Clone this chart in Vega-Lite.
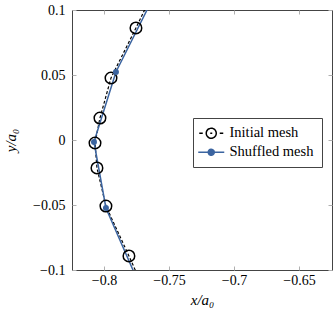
{
  "$schema": "https://vega.github.io/schema/vega-lite/v6.json",
  "width": 260,
  "height": 260,
  "autosize": "none",
  "padding": {"left": 72, "top": 10, "right": 1, "bottom": 46},
  "background": "white",
  "config": {
    "view": {"stroke": "#444444", "strokeWidth": 1},
    "font": "Liberation Serif",
    "axis": {
      "grid": false,
      "domain": false,
      "tickColor": "#b0b0b0",
      "tickSize": -4,
      "tickWidth": 1,
      "labelFont": "Liberation Serif",
      "labelFontSize": 14,
      "labelColor": "black",
      "titleFont": "Liberation Serif",
      "titleFontSize": 15,
      "titleFontStyle": "italic",
      "titleFontWeight": "normal",
      "titleColor": "black"
    },
    "legend": {
      "labelFont": "Liberation Serif"
    }
  },
  "resolve": {"axis": {"x": "independent", "y": "independent"}},
  "data": {
    "values": [
      {"series": "Initial mesh", "i": 0, "x": -0.7569, "y": 0.1246},
      {"series": "Initial mesh", "i": 1, "x": -0.7754, "y": 0.0862},
      {"series": "Initial mesh", "i": 2, "x": -0.7946, "y": 0.0477},
      {"series": "Initial mesh", "i": 3, "x": -0.8031, "y": 0.0169},
      {"series": "Initial mesh", "i": 4, "x": -0.8069, "y": -0.0023},
      {"series": "Initial mesh", "i": 5, "x": -0.8054, "y": -0.0215},
      {"series": "Initial mesh", "i": 6, "x": -0.7985, "y": -0.0508},
      {"series": "Initial mesh", "i": 7, "x": -0.7808, "y": -0.0892},
      {"series": "Initial mesh", "i": 8, "x": -0.7635, "y": -0.1277},
      {"series": "Shuffled mesh", "i": 0, "x": -0.7642, "y": 0.1054},
      {"series": "Shuffled mesh", "i": 1, "x": -0.7908, "y": 0.0523},
      {"series": "Shuffled mesh", "i": 2, "x": -0.8077, "y": -0.0015},
      {"series": "Shuffled mesh", "i": 3, "x": -0.7985, "y": -0.0523},
      {"series": "Shuffled mesh", "i": 4, "x": -0.7757, "y": -0.1046}
    ]
  },
  "encoding": {
    "x": {"field": "x", "type": "quantitative", "axis": null, "scale": {"domain": [-0.8246, -0.6246], "nice": false, "zero": false}},
    "y": {"field": "y", "type": "quantitative", "axis": null, "scale": {"domain": [-0.1, 0.1], "nice": false, "zero": false}},
    "color": {
      "field": "series",
      "type": "nominal",
      "scale": {"domain": ["Initial mesh", "Shuffled mesh"], "range": ["black", "#3b64a0"]},
      "legend": {
        "title": null,
        "orient": "none",
        "legendX": 121,
        "legendY": 108,
        "padding": 8,
        "strokeColor": "#444444",
        "fillColor": "white",
        "cornerRadius": 0,
        "labelFontSize": 14.5,
        "labelColor": "black",
        "labelOffset": 11,
        "symbolSize": 100,
        "symbolOffset": 3,
        "rowPadding": 2,
        "encode": {
          "symbols": {
            "update": {
              "shape": {"signal": "datum.value === 'Initial mesh' ? 'M-2.4,0H-1.7M-1,0A1,1 0 1,0 1,0A1,1 0 1,0 -1,0M-0.2,0H0.2M1.7,0H2.4' : 'M-2.6,0H2.6M-0.6,0A0.6,0.6 0 1,0 0.6,0A0.6,0.6 0 1,0 -0.6,0'"},
              "fill": {"signal": "datum.value === 'Initial mesh' ? 'transparent' : '#3b64a0'"},
              "fillOpacity": {"signal": "datum.value === 'Initial mesh' ? 0 : 1"},
              "stroke": {"signal": "datum.value === 'Initial mesh' ? 'black' : '#3b64a0'"},
              "strokeWidth": {"value": 1.5},
              "strokeDash": {"value": [1, 0]},
              "size": {"value": 100},
              "opacity": {"value": 1}
            }
          }
        }
      }
    }
  },
  "layer": [
    {
      "mark": {"type": "line", "clip": true, "strokeWidth": 1.2, "strokeDash": [3, 2]},
      "transform": [{"filter": "datum.series === 'Initial mesh'"}],
      "encoding": {
        "order": {"field": "i"},
        "x": {"field": "x", "type": "quantitative", "axis": {"title": "x/a₀", "values": [-0.8, -0.75, -0.7, -0.65], "format": "~g", "labelPadding": 7, "titlePadding": 5}},
        "y": {"field": "y", "type": "quantitative", "axis": {"title": "y/a₀", "values": [-0.1, -0.05, 0, 0.05, 0.1], "format": "~g", "labelPadding": 11, "titlePadding": 14}}
      }
    },
    {
      "mark": {"type": "line", "clip": true, "strokeWidth": 1.5},
      "transform": [{"filter": "datum.series === 'Shuffled mesh'"}],
      "encoding": {
        "order": {"field": "i"},
        "x": {"field": "x", "type": "quantitative", "axis": {"orient": "top", "title": null, "labels": false, "values": [-0.8, -0.75, -0.7, -0.65]}},
        "y": {"field": "y", "type": "quantitative", "axis": {"orient": "right", "title": null, "labels": false, "values": [-0.1, -0.05, 0, 0.05, 0.1]}}
      }
    },
    {
      "mark": {"type": "point", "shape": "circle", "filled": false, "size": 133, "strokeWidth": 1.5, "opacity": 1},
      "transform": [{"filter": "datum.series === 'Initial mesh'"}, {"filter": {"field": "y", "range": [-0.1, 0.1]}}]
    },
    {
      "mark": {"type": "point", "shape": "circle", "filled": true, "size": 36, "opacity": 1},
      "transform": [{"filter": "datum.series === 'Shuffled mesh'"}, {"filter": {"field": "y", "range": [-0.1, 0.1]}}]
    }
  ]
}
